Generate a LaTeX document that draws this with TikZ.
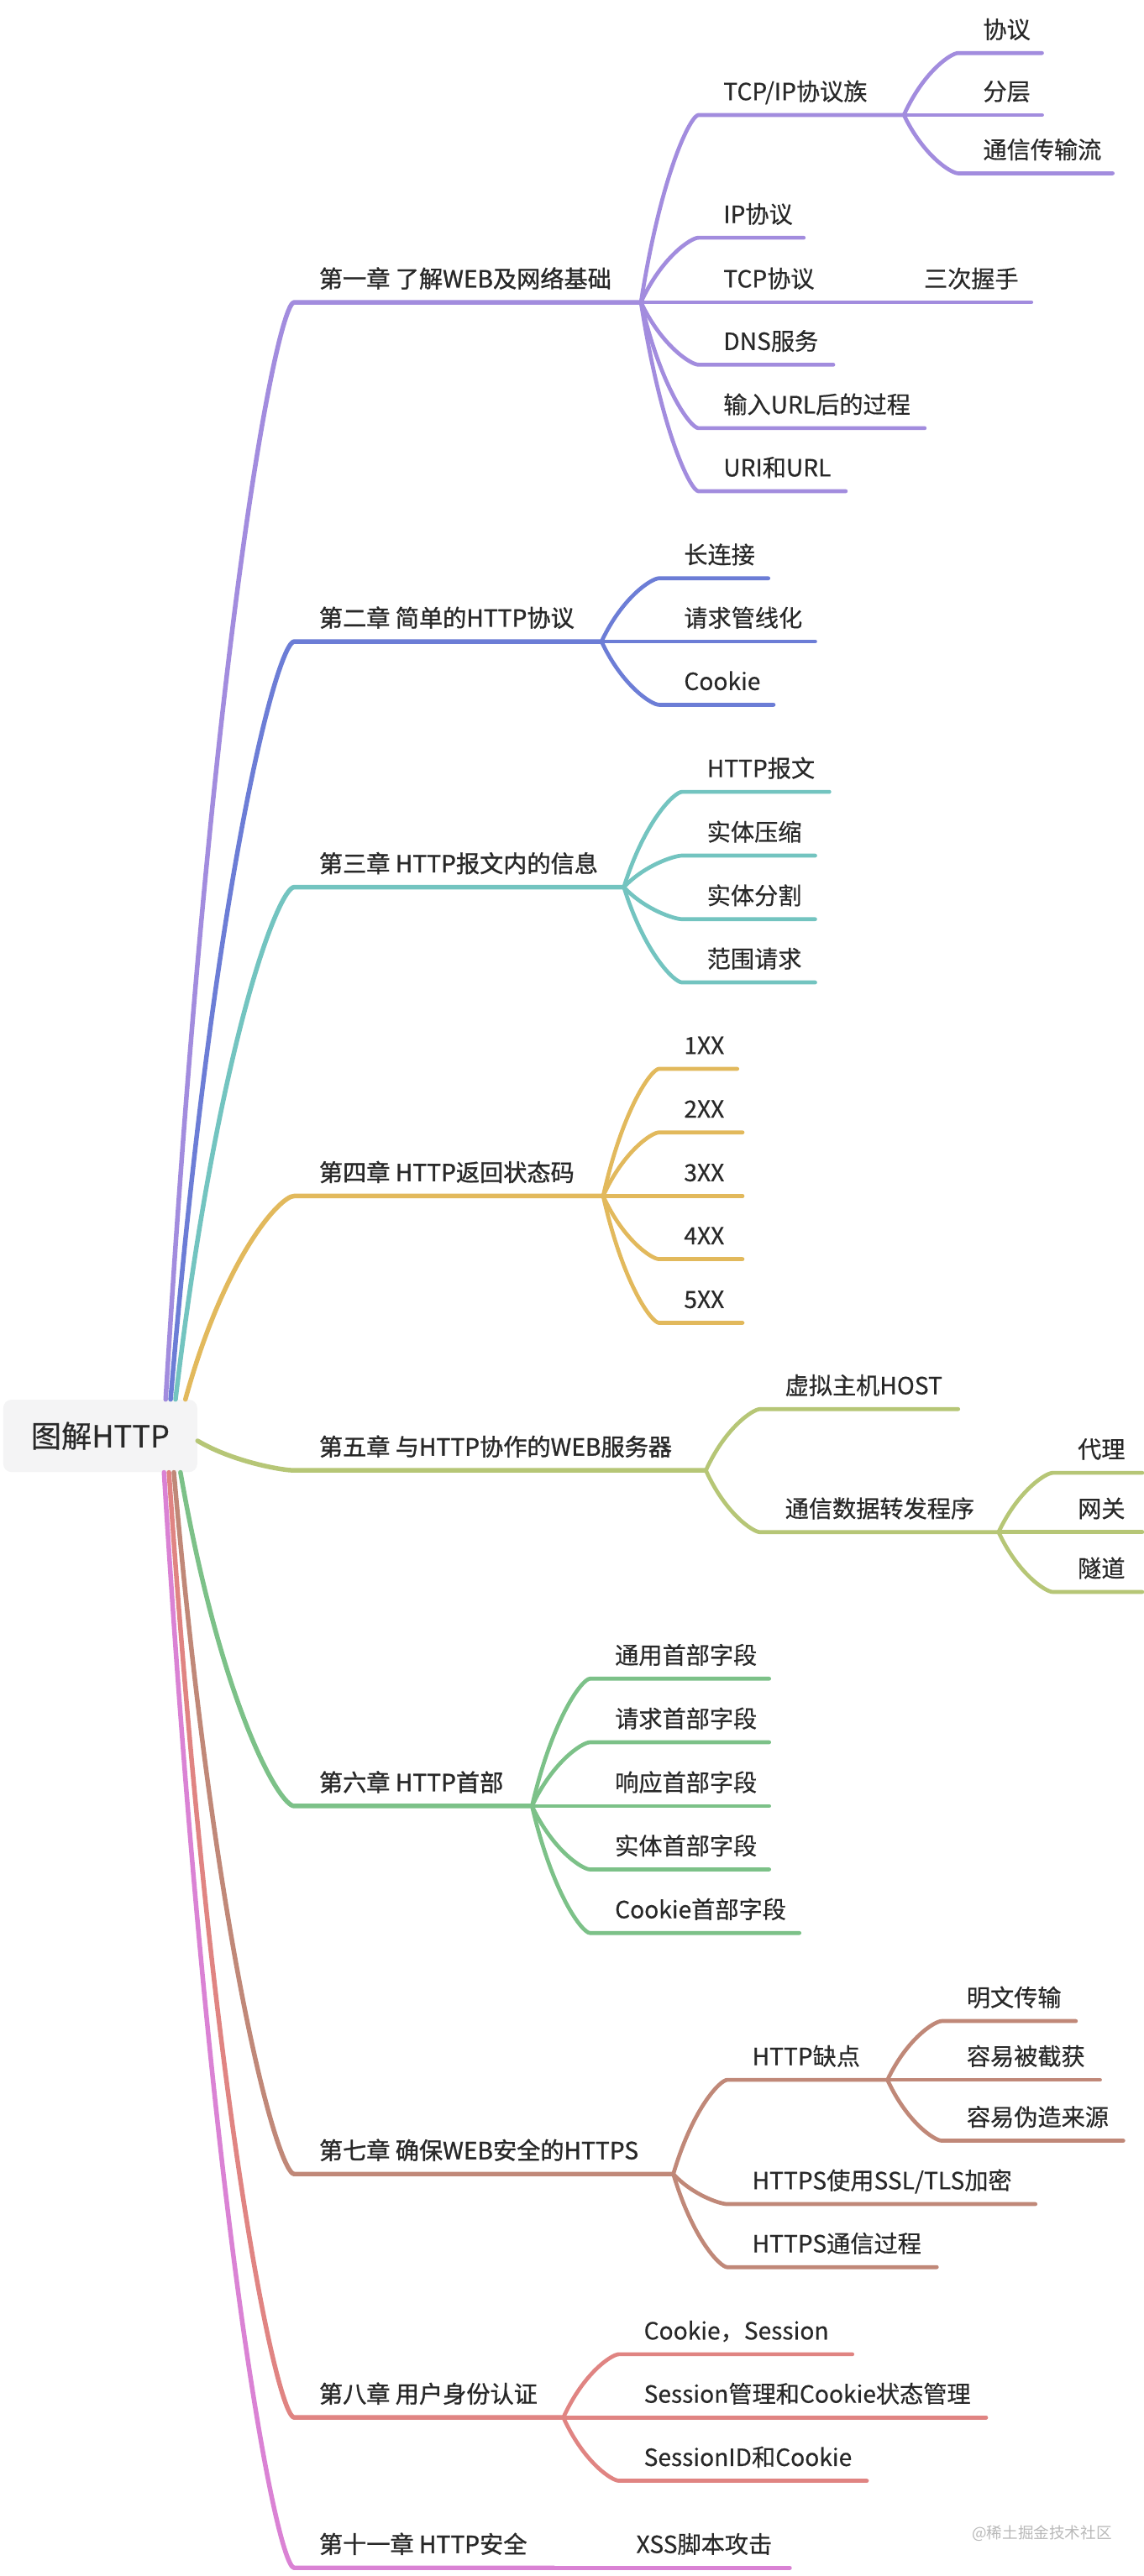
\documentclass[tikz,border=0pt]{standalone}
\usepackage{fontspec}
\setmainfont{Noto Sans CJK SC}
\newfontfamily\chapfont{Noto Sans CJK SC}[FakeBold=1.1]
\newfontfamily\leaffont{Noto Sans CJK SC}[FakeBold=0.4]
\usepackage{tikz}
\usetikzlibrary{calc}
\definecolor{txtcol}{RGB}{40,40,40}
\definecolor{rootfill}{RGB}{244,244,245}
\definecolor{markcol}{RGB}{185,185,185}
\definecolor{chA}{RGB}{162,140,222}
\definecolor{chB}{RGB}{108,125,214}
\definecolor{chC}{RGB}{115,196,192}
\definecolor{chD}{RGB}{226,185,92}
\definecolor{chE}{RGB}{182,198,118}
\definecolor{chF}{RGB}{124,193,136}
\definecolor{chG}{RGB}{192,136,120}
\definecolor{chH}{RGB}{224,132,130}
\definecolor{chK}{RGB}{218,130,212}

\begin{document}
\begin{tikzpicture}[x=1pt, y=-1pt,
    rootbox/.style={fill=rootfill, rounded corners=5pt, minimum width=118pt, minimum height=44pt,
      inner sep=0pt, text=txtcol, font=\leaffont\fontsize{18.5}{22}\selectfont},
    topic/.style={anchor=base west, inner sep=0pt, text=txtcol, font=\leaffont\fontsize{14.4}{17}\selectfont},
    chaptopic/.style={topic, font=\chapfont\fontsize{14.4}{17}\selectfont},
    curvy/.style={line cap=round, line join=round, to path={let \p1=(\tikztostart), \p2=(\tikztotarget) in
      .. controls ({\x1+0.36*(\x2-\x1)},{\y1+0.7*(\y2-\y1)}) and ({\x2-0.13*(\x2-\x1)},{\y2}) .. (\tikztotarget) \tikztonodes}},
    chap/.style={curvy, line width=2.8pt},
    sub/.style={curvy, line width=2.4pt}]
  \useasboundingbox (0,0) rectangle (696,1568);
  \fill[white] (0,0) rectangle (696,1568);

  % central topic
  \node[rootbox] (root) at (61,874) {图解HTTP};
  \coordinate (k1) at ([xshift=99pt]root.north west);
  \coordinate (k2) at ([xshift=102pt]root.north west);
  \coordinate (k3) at ([xshift=105pt]root.north west);
  \coordinate (k4) at ([xshift=111pt]root.north west);
  \coordinate (k5) at ([yshift=-3pt]root.east);
  \coordinate (k6) at ([xshift=108pt]root.south west);
  \coordinate (k7) at ([xshift=104pt]root.south west);
  \coordinate (k8) at ([xshift=101pt]root.south west);
  \coordinate (k11) at ([xshift=98pt]root.south west);

  % chapter 1
  \coordinate (c1A) at (179,184); \coordinate (c1B) at (390,184);
  \node[chaptopic] (c1) at ([shift={(15,-9)}]c1A) {第一章 了解WEB及网络基础};
  \draw[chap, chA] (k1) to (c1A) -- (c1B);
  \coordinate (tcpipA) at (425,70); \coordinate (tcpipB) at (550,70);
  \node[topic] (tcpip) at ([shift={(15,-9)}]tcpipA) {TCP/IP协议族};
  \draw[sub, chA] (c1B) to (tcpipA) -- (tcpipB);
  \coordinate (protoA) at (583,32.3); \coordinate (protoB) at (634,32.3);
  \node[topic] (proto) at ([shift={(15,-9)}]protoA) {协议};
  \draw[sub, chA] (tcpipB) to (protoA) -- (protoB);
  \coordinate (layerA) at (583,70); \coordinate (layerB) at (634,70);
  \node[topic] (layer) at ([shift={(15,-9)}]layerA) {分层};
  \draw[sub, chA] (tcpipB) to (layerA) -- (layerB);
  \coordinate (flowA) at (583,105.5); \coordinate (flowB) at (677,105.5);
  \node[topic] (flow) at ([shift={(15,-9)}]flowA) {通信传输流};
  \draw[sub, chA] (tcpipB) to (flowA) -- (flowB);
  \coordinate (ipA) at (425,144.7); \coordinate (ipB) at (489,144.7);
  \node[topic] (ip) at ([shift={(15,-9)}]ipA) {IP协议};
  \draw[sub, chA] (c1B) to (ipA) -- (ipB);
  \coordinate (tcpA) at (425,184); \coordinate (tcpB) at (512,184);
  \node[topic] (tcp) at ([shift={(15,-9)}]tcpA) {TCP协议};
  \draw[sub, chA] (c1B) to (tcpA) -- (tcpB);
  \coordinate (shakeA) at (547,184); \coordinate (shakeB) at (627.5,184);
  \node[topic] (shake) at ([shift={(15,-9)}]shakeA) {三次握手};
  \draw[sub, chA] (tcpB) to (shakeA) -- (shakeB);
  \coordinate (dnsA) at (425,222); \coordinate (dnsB) at (507,222);
  \node[topic] (dns) at ([shift={(15,-9)}]dnsA) {DNS服务};
  \draw[sub, chA] (c1B) to (dnsA) -- (dnsB);
  \coordinate (inputA) at (425,260.6); \coordinate (inputB) at (562.6,260.6);
  \node[topic] (input) at ([shift={(15,-9)}]inputA) {输入URL后的过程};
  \draw[sub, chA] (c1B) to (inputA) -- (inputB);
  \coordinate (uriA) at (425,299); \coordinate (uriB) at (514.6,299);
  \node[topic] (uri) at ([shift={(15,-9)}]uriA) {URI和URL};
  \draw[sub, chA] (c1B) to (uriA) -- (uriB);

  % chapter 2
  \coordinate (c2A) at (179,390.5); \coordinate (c2B) at (366,390.5);
  \node[chaptopic] (c2) at ([shift={(15,-9)}]c2A) {第二章 简单的HTTP协议};
  \draw[chap, chB] (k2) to (c2A) -- (c2B);
  \coordinate (keepA) at (401,352); \coordinate (keepB) at (467.5,352);
  \node[topic] (keep) at ([shift={(15,-9)}]keepA) {长连接};
  \draw[sub, chB] (c2B) to (keepA) -- (keepB);
  \coordinate (pipeA) at (401,390.5); \coordinate (pipeB) at (496,390.5);
  \node[topic] (pipe) at ([shift={(15,-9)}]pipeA) {请求管线化};
  \draw[sub, chB] (c2B) to (pipeA) -- (pipeB);
  \coordinate (cookA) at (401,429); \coordinate (cookB) at (470.7,429);
  \node[topic] (cook) at ([shift={(15,-9)}]cookA) {Cookie};
  \draw[sub, chB] (c2B) to (cookA) -- (cookB);

  % chapter 3
  \coordinate (c3A) at (179,540); \coordinate (c3B) at (379.6,540);
  \node[chaptopic] (c3) at ([shift={(15,-9)}]c3A) {第三章 HTTP报文内的信息};
  \draw[chap, chC] (k3) to (c3A) -- (c3B);
  \coordinate (msgA) at (415,482); \coordinate (msgB) at (504.6,482);
  \node[topic] (msg) at ([shift={(15,-9)}]msgA) {HTTP报文};
  \draw[sub, chC] (c3B) to (msgA) -- (msgB);
  \coordinate (zipA) at (415,520.8); \coordinate (zipB) at (496,520.8);
  \node[topic] (zip) at ([shift={(15,-9)}]zipA) {实体压缩};
  \draw[sub, chC] (c3B) to (zipA) -- (zipB);
  \coordinate (partA) at (415,559.5); \coordinate (partB) at (496,559.5);
  \node[topic] (part) at ([shift={(15,-9)}]partA) {实体分割};
  \draw[sub, chC] (c3B) to (partA) -- (partB);
  \coordinate (rangeA) at (415,598); \coordinate (rangeB) at (496,598);
  \node[topic] (range) at ([shift={(15,-9)}]rangeA) {范围请求};
  \draw[sub, chC] (c3B) to (rangeA) -- (rangeB);

  % chapter 4
  \coordinate (c4A) at (179,728); \coordinate (c4B) at (367,728);
  \node[chaptopic] (c4) at ([shift={(15,-9)}]c4A) {第四章 HTTP返回状态码};
  \draw[chap, chD] (k4) to (c4A) -- (c4B);
  \coordinate (s1A) at (401,650.6); \coordinate (s1B) at (448.6,650.6);
  \node[topic] (s1) at ([shift={(15,-9)}]s1A) {1XX};
  \draw[sub, chD] (c4B) to (s1A) -- (s1B);
  \coordinate (s2A) at (401,689.3); \coordinate (s2B) at (451.8,689.3);
  \node[topic] (s2) at ([shift={(15,-9)}]s2A) {2XX};
  \draw[sub, chD] (c4B) to (s2A) -- (s2B);
  \coordinate (s3A) at (401,728); \coordinate (s3B) at (451.8,728);
  \node[topic] (s3) at ([shift={(15,-9)}]s3A) {3XX};
  \draw[sub, chD] (c4B) to (s3A) -- (s3B);
  \coordinate (s4A) at (401,766.4); \coordinate (s4B) at (451.8,766.4);
  \node[topic] (s4) at ([shift={(15,-9)}]s4A) {4XX};
  \draw[sub, chD] (c4B) to (s4A) -- (s4B);
  \coordinate (s5A) at (401,805.2); \coordinate (s5B) at (451.8,805.2);
  \node[topic] (s5) at ([shift={(15,-9)}]s5A) {5XX};
  \draw[sub, chD] (c4B) to (s5A) -- (s5B);

  % chapter 5
  \coordinate (c5A) at (179,895); \coordinate (c5B) at (429.5,895);
  \node[chaptopic] (c5) at ([shift={(15,-9)}]c5A) {第五章 与HTTP协作的WEB服务器};
  \draw[chap, chE] (k5) to (c5A) -- (c5B);
  \coordinate (hostA) at (462.5,857.7); \coordinate (hostB) at (583,857.7);
  \node[topic] (host) at ([shift={(15,-9)}]hostA) {虚拟主机HOST};
  \draw[sub, chE] (c5B) to (hostA) -- (hostB);
  \coordinate (relayA) at (462.5,932.6); \coordinate (relayB) at (607.6,932.6);
  \node[topic] (relay) at ([shift={(15,-9)}]relayA) {通信数据转发程序};
  \draw[sub, chE] (c5B) to (relayA) -- (relayB);
  \coordinate (proxyA) at (640.6,896.5); \coordinate (proxyB) at (695,896.5);
  \node[topic] (proxy) at ([shift={(15,-9)}]proxyA) {代理};
  \draw[sub, chE] (relayB) to (proxyA) -- (proxyB);
  \coordinate (gateA) at (640.6,932.6); \coordinate (gateB) at (695,932.6);
  \node[topic] (gate) at ([shift={(15,-9)}]gateA) {网关};
  \draw[sub, chE] (relayB) to (gateA) -- (gateB);
  \coordinate (tunnelA) at (640.6,969); \coordinate (tunnelB) at (695,969);
  \node[topic] (tunnel) at ([shift={(15,-9)}]tunnelA) {隧道};
  \draw[sub, chE] (relayB) to (tunnelA) -- (tunnelB);

  % chapter 6
  \coordinate (c6A) at (179,1099.3); \coordinate (c6B) at (323.7,1099.3);
  \node[chaptopic] (c6) at ([shift={(15,-9)}]c6A) {第六章 HTTP首部};
  \draw[chap, chF] (k6) to (c6A) -- (c6B);
  \coordinate (genA) at (359,1021.8); \coordinate (genB) at (468,1021.8);
  \node[topic] (gen) at ([shift={(15,-9)}]genA) {通用首部字段};
  \draw[sub, chF] (c6B) to (genA) -- (genB);
  \coordinate (reqA) at (359,1060.5); \coordinate (reqB) at (468,1060.5);
  \node[topic] (req) at ([shift={(15,-9)}]reqA) {请求首部字段};
  \draw[sub, chF] (c6B) to (reqA) -- (reqB);
  \coordinate (respA) at (359,1099.3); \coordinate (respB) at (468,1099.3);
  \node[topic] (resp) at ([shift={(15,-9)}]respA) {响应首部字段};
  \draw[sub, chF] (c6B) to (respA) -- (respB);
  \coordinate (entA) at (359,1137.9); \coordinate (entB) at (468,1137.9);
  \node[topic] (ent) at ([shift={(15,-9)}]entA) {实体首部字段};
  \draw[sub, chF] (c6B) to (entA) -- (entB);
  \coordinate (ckA) at (359,1176.6); \coordinate (ckB) at (486.4,1176.6);
  \node[topic] (ck) at ([shift={(15,-9)}]ckA) {Cookie首部字段};
  \draw[sub, chF] (c6B) to (ckA) -- (ckB);

  % chapter 7
  \coordinate (c7A) at (179,1323.3); \coordinate (c7B) at (409.7,1323.3);
  \node[chaptopic] (c7) at ([shift={(15,-9)}]c7A) {第七章 确保WEB安全的HTTPS};
  \draw[chap, chG] (k7) to (c7A) -- (c7B);
  \coordinate (weakA) at (442.5,1266); \coordinate (weakB) at (540,1266);
  \node[topic] (weak) at ([shift={(15,-9)}]weakA) {HTTP缺点};
  \draw[sub, chG] (c7B) to (weakA) -- (weakB);
  \coordinate (plainA) at (573,1230.2); \coordinate (plainB) at (654.6,1230.2);
  \node[topic] (plain) at ([shift={(15,-9)}]plainA) {明文传输};
  \draw[sub, chG] (weakB) to (plainA) -- (plainB);
  \coordinate (sniffA) at (573,1266); \coordinate (sniffB) at (669.3,1266);
  \node[topic] (sniff) at ([shift={(15,-9)}]sniffA) {容易被截获};
  \draw[sub, chG] (weakB) to (sniffA) -- (sniffB);
  \coordinate (fakeA) at (573,1303); \coordinate (fakeB) at (683.5,1303);
  \node[topic] (fake) at ([shift={(15,-9)}]fakeA) {容易伪造来源};
  \draw[sub, chG] (weakB) to (fakeA) -- (fakeB);
  \coordinate (sslA) at (442.5,1341.6); \coordinate (sslB) at (630,1341.6);
  \node[topic] (ssl) at ([shift={(15,-9)}]sslA) {HTTPS使用SSL/TLS加密};
  \draw[sub, chG] (c7B) to (sslA) -- (sslB);
  \coordinate (stepsA) at (442.5,1380); \coordinate (stepsB) at (570,1380);
  \node[topic] (steps) at ([shift={(15,-9)}]stepsA) {HTTPS通信过程};
  \draw[sub, chG] (c7B) to (stepsA) -- (stepsB);

  % chapter 8
  \coordinate (c8A) at (179,1471.5); \coordinate (c8B) at (342.8,1471.5);
  \node[chaptopic] (c8) at ([shift={(15,-9)}]c8A) {第八章 用户身份认证};
  \draw[chap, chH] (k8) to (c8A) -- (c8B);
  \coordinate (sessA) at (376.6,1433); \coordinate (sessB) at (518.6,1433);
  \node[topic] (sess) at ([shift={(15,-9)}]sessA) {Cookie，Session};
  \draw[sub, chH] (c8B) to (sessA) -- (sessB);
  \coordinate (mgmtA) at (376.6,1471.5); \coordinate (mgmtB) at (600,1471.5);
  \node[topic] (mgmt) at ([shift={(15,-9)}]mgmtA) {Session管理和Cookie状态管理};
  \draw[sub, chH] (c8B) to (mgmtA) -- (mgmtB);
  \coordinate (sidA) at (376.6,1510); \coordinate (sidB) at (527.5,1510);
  \node[topic] (sid) at ([shift={(15,-9)}]sidA) {SessionID和Cookie};
  \draw[sub, chH] (c8B) to (sidA) -- (sidB);

  % chapter 11
  \coordinate (c11A) at (179,1563); \coordinate (c11B) at (337,1563);
  \node[chaptopic] (c11) at ([shift={(15,-9)}]c11A) {第十一章 HTTP安全};
  \draw[chap, chK] (k11) to (c11A) -- (c11B);
  \coordinate (xssA) at (372,1563); \coordinate (xssB) at (480.6,1563);
  \node[topic] (xss) at ([shift={(15,-9)}]xssA) {XSS脚本攻击};
  \draw[sub, chK] (c11B) to (xssA) -- (xssB);

  % watermark
  \node[text=markcol, font=\fontsize{9.5}{11}\selectfont, inner sep=0pt] (mark) at (634,1542) {@稀土掘金技术社区};
\end{tikzpicture}
\end{document}
